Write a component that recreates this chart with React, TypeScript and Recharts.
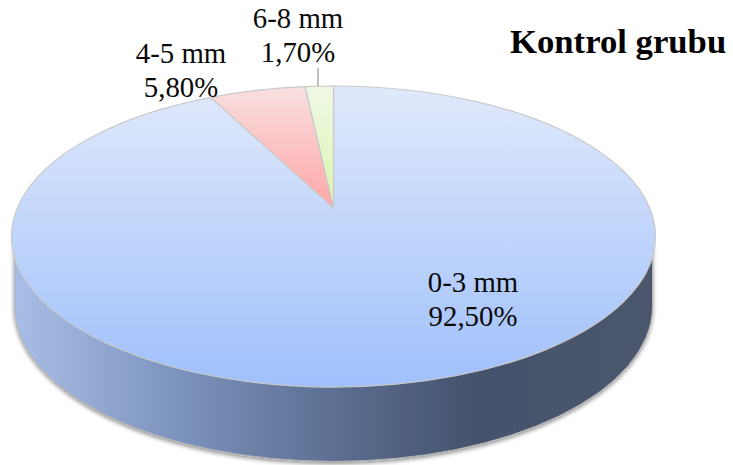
import React from "react";
import { PieChart, Pie } from "recharts";

const categories = ["0-3 mm", "4-5 mm", "6-8 mm"];
const shareValues = [92.5, 5.8, 1.7];
const shareLabels = ["92,50%", "5,80%", "1,70%"];
const chartTitle = "Kontrol grubu";

const sliceFills = ["url(#topBlue)", "url(#topPink)", "url(#topGreen)"];
const labelCentres = [
  { x: 473, y: 292 },
  { x: 181, y: 63 },
  { x: 298, y: 28 },
];

const pieData = categories.map((name, i) => ({
  name,
  value: shareValues[i],
  share: shareLabels[i],
  fill: sliceFills[i],
}));

const W = 733;
const H = 465;
const SQUASH = 0.4674;
const TILT = 0.19;
const FONT = '"Liberation Serif", "Times New Roman", serif';
const TEXT_SIZE = 28.8;

function project(deg: number, cx: number, cy: number, a: number, b: number) {
  const r = (deg * Math.PI) / 180;
  const u = Math.cos(r);
  const v = Math.sin(r);
  const d = 1 + TILT * v;
  return {
    x: cx + (a * u * Math.sqrt(1 - TILT * TILT)) / d,
    y: cy - (b * (v + TILT)) / d,
  };
}

function EllipseSlice(props: any) {
  const { cx, cy, outerRadius, startAngle, endAngle, fill } = props;
  const a = outerRadius;
  const b = outerRadius * SQUASH;
  const p1 = project(startAngle, cx, cy, a, b);
  const p2 = project(endAngle, cx, cy, a, b);
  const apex = { x: cx, y: cy - b * TILT };
  const large = Math.abs(startAngle - endAngle) > 180 ? 1 : 0;
  const d = `M${apex.x},${apex.y} L${p1.x},${p1.y} A${a},${b} 0 ${large} 1 ${p2.x},${p2.y} Z`;

  const wa = a * 0.9907;
  const wb = a * 0.4814;
  const wy = cy + a * 0.2174;
  const wallTop = cy + a * 0.03;
  const wall = `M${cx - wa},${wallTop} L${cx - wa},${wy} A${wa},${wb} 0 0 0 ${cx + wa},${wy} L${cx + wa},${wallTop} Z`;

  return (
    <g>
      {startAngle === 90 && (
        <path d={wall} fill="url(#wall)" stroke="#b5b5b5" strokeWidth={1} filter="url(#wallShadow)" />
      )}
      <path d={d} fill={fill} stroke="#c9c9c9" strokeWidth={1.2} strokeLinejoin="round" />
    </g>
  );
}

function SliceLabel(props: any) {
  const { index, name, share } = props;
  const at = labelCentres[index];
  return (
    <g>
      {name === categories[2] && (
        <line x1={318} y1={68} x2={318} y2={86} stroke="#a6a6a6" strokeWidth={1.4} />
      )}
      <text x={at.x} y={at.y} textAnchor="middle" fontFamily={FONT} fontSize={TEXT_SIZE} fill="#0a0a0a">
        {name}
      </text>
      <text x={at.x} y={at.y + 33.5} textAnchor="middle" fontFamily={FONT} fontSize={TEXT_SIZE} fill="#0a0a0a">
        {share}
      </text>
    </g>
  );
}

export default function App() {
  return (
    <div style={{ position: "absolute", left: 0, top: 0, width: W, height: H }}>
      <PieChart width={W} height={H} margin={{ top: 0, right: 0, bottom: 0, left: 0 }}>
        <defs>
          <linearGradient id="topBlue" x1="0" y1="0" x2="0" y2="1">
            <stop offset="0" stopColor="#e0e9fb" />
            <stop offset="1" stopColor="#9fc0fb" />
          </linearGradient>
          <linearGradient id="topPink" x1="0" y1="0" x2="0" y2="1">
            <stop offset="0" stopColor="#f9dfe0" />
            <stop offset="1" stopColor="#ffa7a7" />
          </linearGradient>
          <linearGradient id="topGreen" x1="0" y1="0" x2="0" y2="1">
            <stop offset="0" stopColor="#f0f8e6" />
            <stop offset="1" stopColor="#daf6ae" />
          </linearGradient>
          <linearGradient id="wall" x1="0" y1="0" x2="1" y2="0">
            <stop offset="0" stopColor="#a9bee6" />
            <stop offset="0.25" stopColor="#7d94bf" />
            <stop offset="0.5" stopColor="#5c6f92" />
            <stop offset="0.72" stopColor="#45526c" />
            <stop offset="1" stopColor="#4b576c" />
          </linearGradient>
          <filter id="wallShadow" x="-5%" y="-5%" width="110%" height="115%">
            <feDropShadow dx="0" dy="2" stdDeviation="2" floodColor="#000" floodOpacity="0.45" />
          </filter>
        </defs>
        <Pie
          data={pieData}
          dataKey="value"
          nameKey="name"
          cx={333.5}
          cy={236.5}
          innerRadius={0}
          outerRadius={322}
          startAngle={90}
          endAngle={-270}
          paddingAngle={0}
          shape={EllipseSlice}
          label={SliceLabel}
          labelLine={false}
          isAnimationActive={false}
        />
        <text x={510} y={53} fontFamily={FONT} fontSize={34.7} fontWeight="bold" fill="#000">
          {chartTitle}
        </text>
      </PieChart>
    </div>
  );
}
